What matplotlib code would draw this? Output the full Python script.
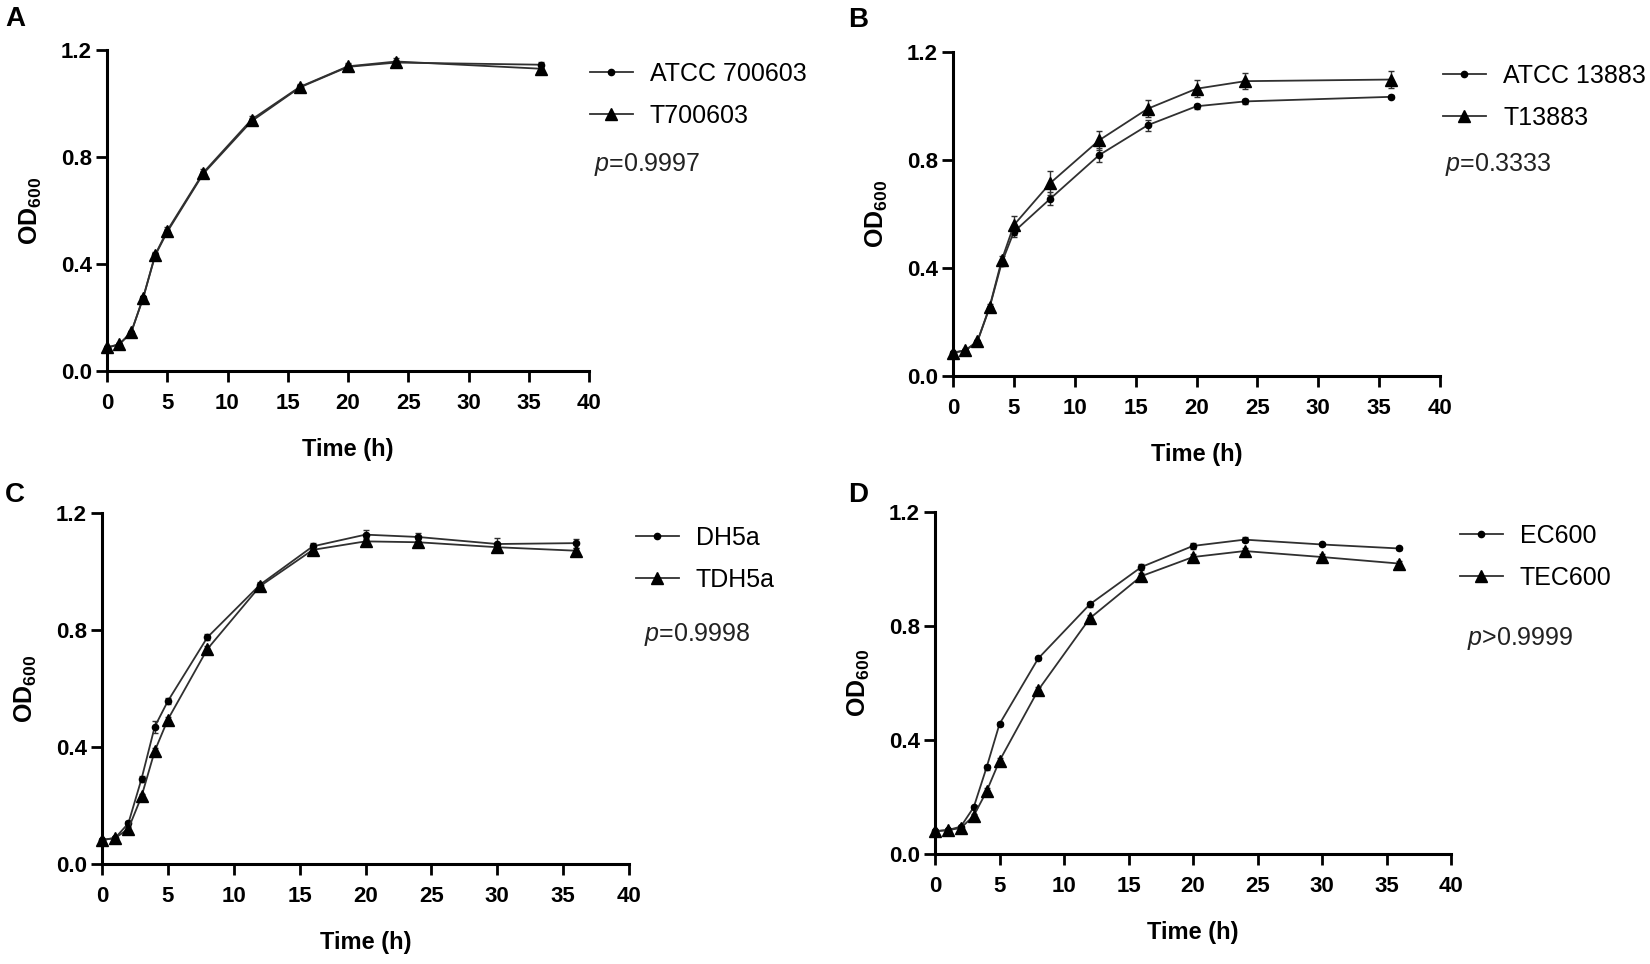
import matplotlib
matplotlib.use('Agg')
import matplotlib.pyplot as plt

plt.rcParams['font.family'] = ['Liberation Sans', 'DejaVu Sans']
plt.rcParams['mathtext.fontset'] = 'custom'
plt.rcParams['mathtext.rm'] = 'Liberation Sans'
plt.rcParams['mathtext.it'] = 'Liberation Sans:italic'
plt.rcParams['mathtext.bf'] = 'Liberation Sans:bold'

# ---------------- data ----------------
time_ab = [0, 1, 2, 3, 4, 5, 8, 12, 16, 20, 24, 36]
time_cd = [0, 1, 2, 3, 4, 5, 8, 12, 16, 20, 24, 30, 36]

# Panel A
a_labels = ["ATCC 700603", "T700603"]
a_s1 = [0.087, 0.099, 0.143, 0.273, 0.432, 0.520, 0.738, 0.934, 1.060, 1.137, 1.153, 1.145]
a_s2 = [0.088, 0.100, 0.144, 0.274, 0.435, 0.525, 0.742, 0.940, 1.062, 1.139, 1.157, 1.130]
a_e1 = [0.005, 0.005, 0.005, 0.008, 0.010, 0.010, 0.010, 0.012, 0.010, 0.010, 0.010, 0.012]
a_e2 = [0.005, 0.005, 0.005, 0.008, 0.010, 0.012, 0.012, 0.015, 0.012, 0.012, 0.012, 0.018]
a_p = "=0.9997"

# Panel B
b_labels = ["ATCC 13883", "T13883"]
b_s1 = [0.086, 0.094, 0.127, 0.253, 0.419, 0.534, 0.657, 0.818, 0.929, 0.999, 1.017, 1.034]
b_s2 = [0.087, 0.095, 0.128, 0.255, 0.429, 0.559, 0.715, 0.873, 0.990, 1.064, 1.092, 1.098]
b_e1 = [0.004, 0.004, 0.005, 0.008, 0.012, 0.020, 0.025, 0.025, 0.020, 0.010, 0.008, 0.006]
b_e2 = [0.004, 0.004, 0.006, 0.010, 0.015, 0.035, 0.043, 0.035, 0.032, 0.032, 0.030, 0.030]
b_p = "=0.3333"

# Panel C
c_labels = ["DH5a", "TDH5a"]
c_s1 = [0.082, 0.089, 0.139, 0.291, 0.469, 0.557, 0.775, 0.955, 1.086, 1.126, 1.118, 1.094, 1.097]
c_s2 = [0.082, 0.089, 0.120, 0.231, 0.386, 0.494, 0.735, 0.950, 1.074, 1.103, 1.100, 1.083, 1.071]
c_e1 = [0.004, 0.004, 0.008, 0.010, 0.020, 0.010, 0.010, 0.008, 0.010, 0.015, 0.015, 0.020, 0.015]
c_e2 = [0.004, 0.004, 0.006, 0.010, 0.012, 0.010, 0.010, 0.008, 0.010, 0.010, 0.010, 0.012, 0.008]
c_p = "=0.9998"

# Panel D
d_labels = ["EC600", "TEC600"]
d_s1 = [0.080, 0.084, 0.096, 0.164, 0.304, 0.456, 0.686, 0.876, 1.007, 1.081, 1.103, 1.086, 1.072]
d_s2 = [0.080, 0.084, 0.091, 0.134, 0.220, 0.327, 0.575, 0.827, 0.975, 1.042, 1.063, 1.042, 1.019]
d_e1 = [0.004, 0.004, 0.004, 0.006, 0.008, 0.008, 0.006, 0.008, 0.010, 0.010, 0.008, 0.006, 0.005]
d_e2 = [0.004, 0.004, 0.004, 0.008, 0.010, 0.010, 0.010, 0.010, 0.012, 0.012, 0.012, 0.010, 0.008]
d_p = ">0.9999"

x_ticks = [0, 5, 10, 15, 20, 25, 30, 35, 40]
y_ticks = [0.0, 0.4, 0.8, 1.2]
y_ticklabels = ["0.0", "0.4", "0.8", "1.2"]
panel_letters = ["A", "B", "C", "D"]

# ---------------- layout ----------------
W, H = 1650, 964
fig = plt.figure(figsize=(W / 100, H / 100), dpi=100)


def rect(l, r, t, b):
    return [l / W, 1 - b / H, (r - l) / W, (b - t) / H]


panels = [
    dict(rect=rect(107, 589, 50, 371), t=time_ab, s1=a_s1, s2=a_s2, e1=a_e1, e2=a_e2,
         labels=a_labels, p=a_p, leg=(590, 95), ptxt=(594, 164), letter=(5, 6)),
    dict(rect=rect(953, 1440, 52, 376), t=time_ab, s1=b_s1, s2=b_s2, e1=b_e1, e2=b_e2,
         labels=b_labels, p=b_p, leg=(1443, 97), ptxt=(1445, 165), letter=(848, 7)),
    dict(rect=rect(102, 629, 513, 864), t=time_cd, s1=c_s1, s2=c_s2, e1=c_e1, e2=c_e2,
         labels=c_labels, p=c_p, leg=(636, 559), ptxt=(644, 635), letter=(5, 482)),
    dict(rect=rect(935, 1451, 512, 854), t=time_cd, s1=d_s1, s2=d_s2, e1=d_e1, e2=d_e2,
         labels=d_labels, p=d_p, leg=(1460, 557), ptxt=(1467, 638), letter=(848, 482)),
]

line_col = '#303030'
for i, pn in enumerate(panels):
    ax = fig.add_axes(pn['rect'])
    h1 = ax.errorbar(pn['t'], pn['s1'], yerr=pn['e1'], color=line_col, lw=1.3,
                     marker='o', ms=4.5, mfc='black', mec='black',
                     ecolor=line_col, elinewidth=1.0, capsize=2.5, capthick=1.0,
                     clip_on=False, zorder=3, label=pn['labels'][0])
    h2 = ax.errorbar(pn['t'], pn['s2'], yerr=pn['e2'], color=line_col, lw=1.3,
                     marker='^', ms=8, mfc='black', mec='black',
                     ecolor=line_col, elinewidth=1.0, capsize=2.5, capthick=1.0,
                     clip_on=False, zorder=3, label=pn['labels'][1])
    for art in (h1, h2):
        for c in art.get_children():
            c.set_clip_on(False)
    ax.set_xlim(0, 40)
    ax.set_ylim(0, 1.2)
    ax.set_xticks(x_ticks)
    ax.set_yticks(y_ticks)
    ax.set_yticklabels(y_ticklabels)
    for sp in ['top', 'right']:
        ax.spines[sp].set_visible(False)
    for sp in ['left', 'bottom']:
        ax.spines[sp].set_linewidth(2.2)
    ax.tick_params(axis='both', direction='out', length=8, width=2.0, labelsize=16)
    ax.tick_params(axis='x', pad=8)
    ax.tick_params(axis='y', pad=3)
    for lab in ax.get_xticklabels() + ax.get_yticklabels():
        lab.set_fontweight('bold')
    ax.set_xlabel('Time (h)', fontsize=17, fontweight='bold', labelpad=17)
    ax.set_ylabel(r'OD$_{\mathregular{600}}$', fontsize=18, fontweight='bold', labelpad=12)

    lx, ly = pn['leg']
    ax.legend(handles=[h1[0], h2[0]], labels=pn['labels'], loc='center left',
              bbox_to_anchor=(lx / W, 1 - ly / H), bbox_transform=fig.transFigure,
              frameon=False, fontsize=18, handlelength=1.7, handletextpad=0.7,
              labelspacing=0.72, borderpad=0, borderaxespad=0)
    px, py = pn['ptxt']
    fig.text(px / W, 1 - py / H, r'$\mathit{p}$' + pn['p'],
             fontsize=18, va='center', ha='left', color='#222222')
    lx0, ly0 = pn['letter']
    fig.text(lx0 / W, 1 - ly0 / H, panel_letters[i], fontsize=20, fontweight='bold',
             va='top', ha='left')

fig.savefig('out.png', dpi=100)
